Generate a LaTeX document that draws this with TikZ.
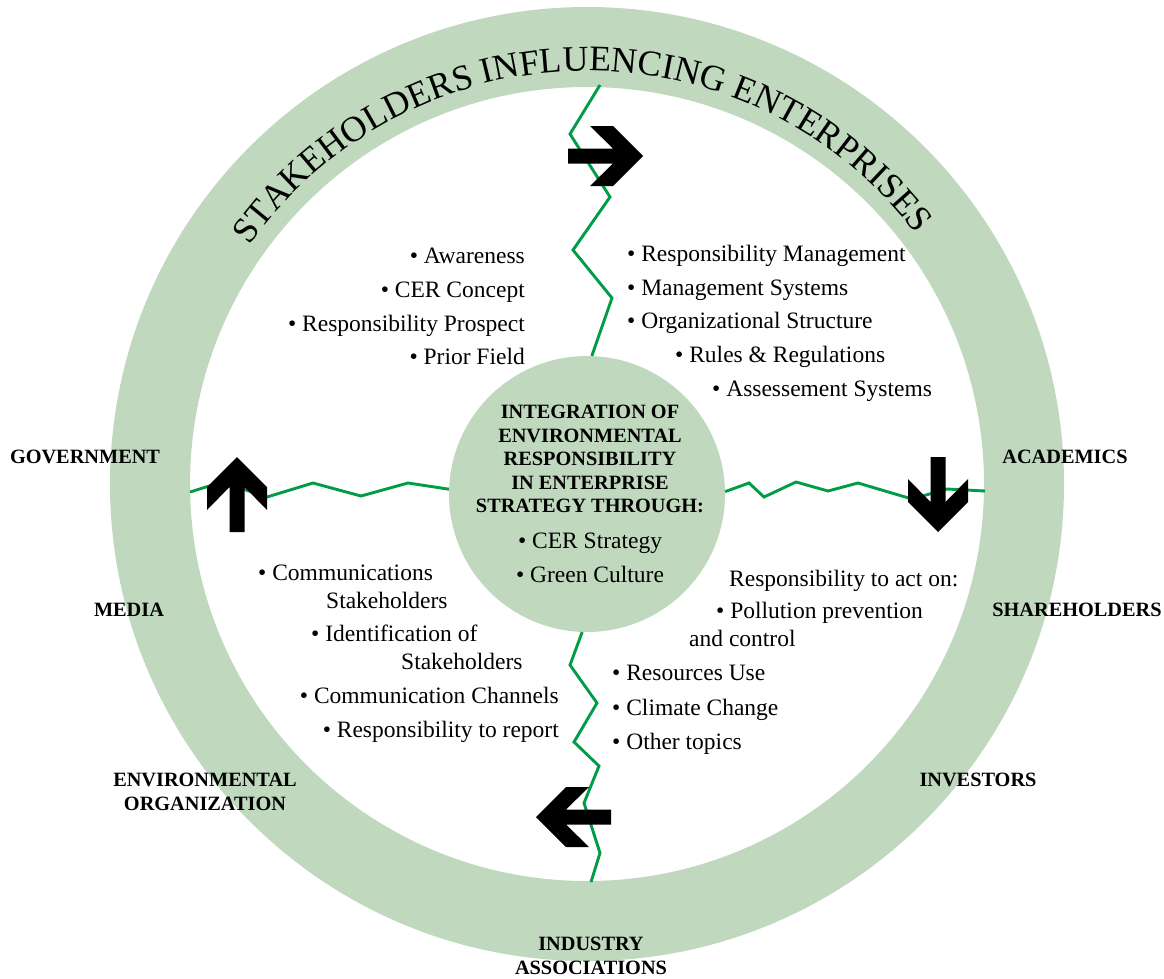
\documentclass[tikz,border=0pt]{standalone}
\usepackage{fontspec}
\setmainfont{Liberation Serif}
\usetikzlibrary{positioning,decorations.text}

\definecolor{ringgreen}{RGB}{191,216,190}
\definecolor{linegreen}{RGB}{0,156,72}

\newcommand{\bul}{\textbullet\ }

\tikzset{
  zig/.style={draw=linegreen, line width=2.9pt},
  item/.style={font=\fontsize{23.5}{28}\selectfont, inner sep=0pt},
  stake/.style={font=\bfseries\fontsize{20.3}{23.5}\selectfont, align=center, inner sep=0pt},
  blockarrow/.pic={\fill[black] (0,0) -- (-30,30) -- (-53,30) -- (-30,7.5) -- (-75,7.5) -- (-75,-7.5) -- (-30,-7.5) -- (-53,-30) -- (-30,-30) -- cycle;}
}

\begin{document}
\begin{tikzpicture}[x=1pt, y=-1pt]
    \useasboundingbox (0,0) rectangle (1164,978);

    % Ring of stakeholders
    \coordinate (c) at (587,484);
    \fill[ringgreen, even odd rule] (c) circle[radius=477pt] (c) circle[radius=397pt];
    \path[decorate, decoration={text along path, text align=center,
        text={|\fontsize{36}{40}\selectfont|STAKEHOLDERS INFLUENCING ENTERPRISES}}]
        ([shift={(171:413pt)}]c) arc[start angle=171, end angle=11, radius=413pt];

    % Hub
    \node[circle, fill=ringgreen, minimum size=276pt, inner sep=0pt] (hub) at (587,494) {};

    % Zigzag dividers
    \coordinate (ringtop) at (600,85);
    \coordinate (ringleft) at (190,492);
    \coordinate (ringright) at (985,491);
    \coordinate (ringbottom) at (591,882);
    \draw[zig] (ringtop) -- (570,134) -- (610,197) -- (573,250) -- (612,298) -- (hub.88);
    \draw[zig] (ringleft) -- (222,482) -- (267,497) -- (313,483) -- (361,496) -- (408,483) -- (hub.178);
    \draw[zig] (hub.1) -- (749,483) -- (764,497) -- (796,482) -- (828,491) -- (858,483) -- (912,499) -- (947,489) -- (ringright);
    \draw[zig] (hub.268) -- (570,665) -- (597,703) -- (574,742) -- (599,766) -- (584,803) -- (600,853) -- (ringbottom);

    % Cycle arrows
    \pic at (643,156) {blockarrow};
    \pic[rotate=-90] at (938,532) {blockarrow};
    \pic[rotate=180] at (536,817) {blockarrow};
    \pic[rotate=90] at (237,457) {blockarrow};

    % Hub text
    \node[stake] (hubtitle) at (590,459) {INTEGRATION OF\\ENVIRONMENTAL\\RESPONSIBILITY\\IN ENTERPRISE\\STRATEGY THROUGH:};
    \node[item, anchor=base] (cerstrat) at (590,548) {\bul CER Strategy};
    \node[item, anchor=base] (greencult) at (590,582) {\bul Green Culture};

    % Top left
    \node[item, anchor=base east] (aware) at (525,263) {\bul Awareness};
    \node[item, anchor=base east] (cercon) at (525,297) {\bul CER Concept};
    \node[item, anchor=base east] (prosp) at (525,331) {\bul Responsibility Prospect};
    \node[item, anchor=base east] (prior) at (525,364) {\bul Prior Field};

    % Top right
    \node[item, anchor=base west] (respman) at (627,261) {\bul Responsibility Management};
    \node[item, anchor=base west] (mansys) at (627,295) {\bul Management Systems};
    \node[item, anchor=base west] (orgstr) at (627,328) {\bul Organizational Structure};
    \node[item, anchor=base west] (rules) at (675,362) {\bul Rules \& Regulations};
    \node[item, anchor=base west] (assess) at (712,396) {\bul Assessement Systems};

    % Bottom left
    \node[item, anchor=base west] (comm) at (258,580) {\bul Communications};
    \node[item, anchor=base west] (commb) at (326,608) {Stakeholders};
    \node[item, anchor=base west] (ident) at (311,641) {\bul Identification of};
    \node[item, anchor=base west] (identb) at (401,669) {Stakeholders};
    \node[item, anchor=base east] (chan) at (559,703) {\bul Communication Channels};
    \node[item, anchor=base east] (report) at (559,737) {\bul Responsibility to report};

    % Bottom right
    \node[item, anchor=base west] (act) at (729,586) {Responsibility to act on:};
    \node[item, anchor=base west] (poll) at (716,618) {\bul Pollution prevention};
    \node[item, anchor=base west] (pollb) at (689,646) {and control};
    \node[item, anchor=base west] (res) at (612,680) {\bul Resources Use};
    \node[item, anchor=base west] (clim) at (612,715) {\bul Climate Change};
    \node[item, anchor=base west] (other) at (612,749) {\bul Other topics};

    % Stakeholders
    \node[stake] (gov) at (85,457) {GOVERNMENT};
    \node[stake] (media) at (129,610) {MEDIA};
    \node[stake] (envorg) at (205,792) {ENVIRONMENTAL\\ORGANIZATION};
    \node[stake] (indus) at (591,956) {INDUSTRY\\ASSOCIATIONS};
    \node[stake] (invest) at (978,780) {INVESTORS};
    \node[stake] (share) at (1077,610) {SHAREHOLDERS};
    \node[stake] (acad) at (1065,457) {ACADEMICS};
\end{tikzpicture}
\end{document}
